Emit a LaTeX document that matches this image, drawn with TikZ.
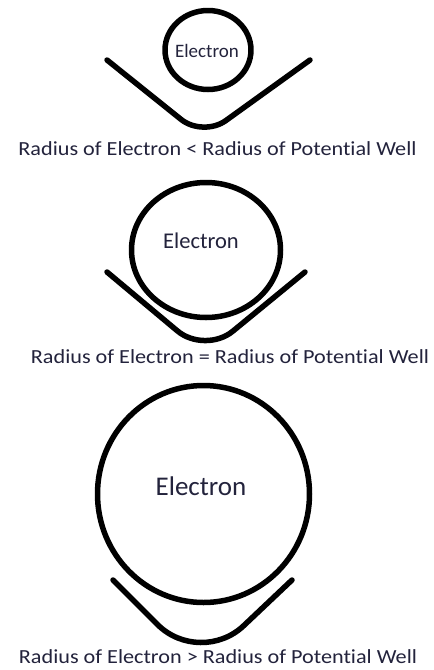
\documentclass[tikz,border=0pt]{standalone}
\usepackage{fontspec}
\setmainfont[Ligatures=NoCommon]{Carlito}
\definecolor{txt}{RGB}{35,35,60}
\tikzset{
  shapeline/.style={line width=5.5pt, line cap=round, line join=round, black},
  lbl/.style={anchor=base, inner sep=0pt, text=txt},
}
\newcommand{\capfont}{\fontsize{20}{24}\selectfont}
\begin{document}
\begin{tikzpicture}[x=1pt,y=-1pt]
\useasboundingbox (0,0) rectangle (434,670);
\fill[white] (0,0) rectangle (434,670);
% Panel 1
\draw[shapeline] (208,50) ellipse [x radius=43, y radius=39.5];
\draw[shapeline, rounded corners=28pt] (107,60) -- (203,137) -- (310,60);
\node[lbl] (e1) at (207,57) {\fontsize{19}{22}\selectfont Electron};
\node[lbl] (c1) at (217.5,155) {\capfont\scalebox{1.11}[1]{Radius of Electron < Radius of Potential Well}};
% Panel 2
\draw[shapeline] (206,250) ellipse [x radius=74.5, y radius=67.5];
\draw[shapeline, rounded corners=36pt] (107,272) -- (205,354) -- (305,272);
\node[lbl] (e2) at (201,248) {\fontsize{22.5}{26}\selectfont Electron};
\node[lbl] (c2) at (230,363) {\capfont\scalebox{1.11}[1]{Radius of Electron = Radius of Potential Well}};
% Panel 3
\draw[shapeline] (203.5,494) ellipse [x radius=106, y radius=108.5];
\draw[shapeline, rounded corners=60pt] (113,580) -- (200,667) -- (292,580);
\node[lbl] (e3) at (201,495) {\fontsize{27}{31}\selectfont Electron};
\node[lbl] (c3) at (218,663) {\capfont\scalebox{1.11}[1]{Radius of Electron > Radius of Potential Well}};
\end{tikzpicture}
\end{document}
